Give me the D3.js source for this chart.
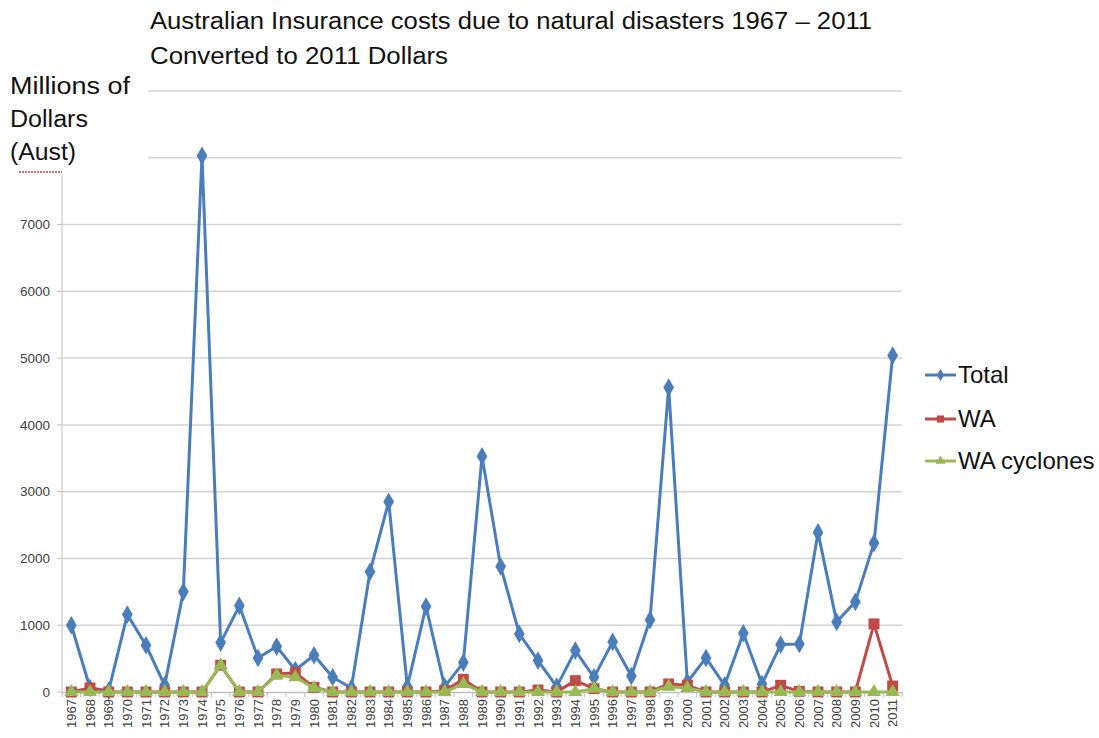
<!DOCTYPE html>
<html>
<head>
<meta charset="utf-8">
<script src="https://cdn.jsdelivr.net/npm/d3@7"></script>
<style>
  body { margin: 0; background: #fff; }
  svg { display: block; }
</style>
</head>
<body>
<div id="chart"></div>
<script>
const years = d3.range(1967, 2012).map(String);

const total = [1000, 60, 20, 1160, 700, 100, 1500, 8030, 740, 1290,
  510, 680, 330, 550, 220, 60, 1800, 2850, 80, 1280,
  80, 440, 3530, 1880, 870, 470, 80, 620, 220, 750,
  240, 1080, 4560, 150, 510, 100, 880, 120, 710, 720,
  2390, 1050, 1350, 2230, 5040];

const wa = [0, 60, 0, 0, 0, 0, 0, 0, 400, 0,
  0, 270, 290, 70, 0, 0, 0, 0, 0, 0,
  20, 190, 0, 0, 0, 30, 0, 170, 50, 0,
  0, 0, 120, 100, 0, 0, 0, 0, 100, 10,
  0, 0, 0, 1020, 90];

const waCyclones = [0, 0, 0, 0, 0, 0, 0, 0, 400, 0,
  0, 250, 220, 60, 0, 0, 0, 0, 0, 0,
  0, 120, 0, 0, 0, 0, 0, 0, 50, 0,
  0, 0, 80, 60, 0, 0, 0, 0, 0, 0,
  0, 0, 0, 0, 0];

const yTicks = [0, 1000, 2000, 3000, 4000, 5000, 6000, 7000];
const yHiddenGrid = [8000, 9000];

const seriesNames = ["Total", "WA", "WA cyclones"];
const colors = ["#4a7ebb", "#be4b48", "#98b954"];

const width = 1099, height = 738;
const marginLeft = 62, plotRight = 902, yBottom = 692, yTop = 91;
const font = "'Liberation Sans Narrow', 'Liberation Sans', Arial, sans-serif";

const svg = d3.select("#chart").append("svg")
  .attr("width", width)
  .attr("height", height);

const x = d3.scaleBand().domain(years).range([marginLeft, plotRight]);
const y = d3.scaleLinear().domain([0, 9000]).range([yBottom, yTop]);

// gridlines
svg.append("g").selectAll("line")
  .data(yTicks.slice(1))
  .join("line")
  .attr("x1", marginLeft).attr("x2", plotRight)
  .attr("y1", d => y(d)).attr("y2", d => y(d))
  .attr("stroke", "#d4d4d4").attr("stroke-width", 1.5);

// top gridlines are partly hidden behind the title and axis label
svg.append("g").selectAll("line")
  .data(yHiddenGrid)
  .join("line")
  .attr("x1", 148).attr("x2", plotRight)
  .attr("y1", d => y(d)).attr("y2", d => y(d))
  .attr("stroke", "#d4d4d4").attr("stroke-width", 1.5);

// y axis
svg.append("line")
  .attr("x1", marginLeft).attr("x2", marginLeft)
  .attr("y1", 175).attr("y2", yBottom)
  .attr("stroke", "#bfbfbf").attr("stroke-width", 1);

svg.append("g").selectAll("line")
  .data(yTicks)
  .join("line")
  .attr("x1", marginLeft - 5).attr("x2", marginLeft)
  .attr("y1", d => y(d)).attr("y2", d => y(d))
  .attr("stroke", "#bfbfbf");

svg.append("g").selectAll("text")
  .data(yTicks)
  .join("text")
  .attr("x", 50)
  .attr("y", d => y(d))
  .attr("dy", "0.35em")
  .attr("text-anchor", "end")
  .attr("font-family", "'Liberation Sans', Arial, sans-serif")
  .attr("font-size", 13.5)
  .attr("fill", "#404040")
  .text(d => d);

// x axis
const xAxis = svg.append("g")
  .attr("transform", `translate(0,${yBottom})`)
  .call(d3.axisBottom(x).tickSize(0).tickPadding(6));
xAxis.select(".domain").attr("stroke", "#bfbfbf").attr("stroke-width", 1.5);
xAxis.selectAll("text")
  .attr("transform", "rotate(-90)")
  .attr("text-anchor", "end")
  .attr("x", -7)
  .attr("y", 0)
  .attr("dy", "0.35em")
  .attr("font-family", "'Liberation Sans', Arial, sans-serif")
  .attr("font-size", 13)
  .attr("fill", "#404040");

svg.append("g").selectAll("line")
  .data(years.concat(["end"]))
  .join("line")
  .attr("x1", d => d === "end" ? plotRight : x(d))
  .attr("x2", d => d === "end" ? plotRight : x(d))
  .attr("y1", yBottom).attr("y2", yBottom + 5)
  .attr("stroke", "#bfbfbf");

// series
const cx = d => x(d) + x.bandwidth() / 2;
const line = d3.line()
  .x((_, i) => cx(years[i]))
  .y(d => y(d));

const data = [total, wa, waCyclones];
const symbols = [d3.symbolDiamond, d3.symbolSquare, d3.symbolTriangle];
const sizes = [100, 120, 85];

data.forEach((vals, k) => {
  svg.append("path")
    .datum(vals)
    .attr("fill", "none")
    .attr("stroke", colors[k])
    .attr("stroke-width", 3)
    .attr("stroke-linejoin", "round")
    .attr("d", line);

  svg.append("g").selectAll("path")
    .data(vals)
    .join("path")
    .attr("transform", (d, i) => `translate(${cx(years[i])},${y(d)})`)
    .attr("d", d3.symbol(symbols[k], sizes[k]))
    .attr("fill", colors[k]);
});

// title
svg.append("text")
  .attr("x", 150).attr("y", 29)
  .attr("font-family", font)
  .attr("font-size", 23)
  .attr("fill", "#111")
  .attr("textLength", 722)
  .attr("lengthAdjust", "spacingAndGlyphs")
  .text("Australian Insurance costs due to natural disasters 1967 – 2011");

svg.append("text")
  .attr("x", 150).attr("y", 64)
  .attr("font-family", font)
  .attr("font-size", 23)
  .attr("fill", "#111")
  .attr("textLength", 298)
  .attr("lengthAdjust", "spacingAndGlyphs")
  .text("Converted to 2011 Dollars");

// y axis label
const yLabel = [["Millions of", 120], ["Dollars", 78], ["(Aust)", 66]];
yLabel.forEach(([t, w], i) => {
  svg.append("text")
    .attr("x", 10).attr("y", 94 + i * 33)
    .attr("font-family", font)
    .attr("font-size", 23)
    .attr("fill", "#111")
    .attr("textLength", w)
    .attr("lengthAdjust", "spacingAndGlyphs")
    .text(t);
});
// spell-check squiggle under "Aust"
svg.append("line")
  .attr("x1", 19).attr("x2", 62)
  .attr("y1", 172).attr("y2", 172)
  .attr("stroke", "#d23c3c").attr("stroke-width", 1.5)
  .attr("stroke-dasharray", "2,1");

// legend
const legendY = [375, 419, 461];
const legendSizes = [45, 50, 40];
seriesNames.forEach((name, k) => {
  const g = svg.append("g").attr("transform", `translate(925,${legendY[k]})`);
  g.append("line")
    .attr("x1", 0).attr("x2", 31)
    .attr("stroke", colors[k]).attr("stroke-width", 3);
  g.append("path")
    .attr("transform", "translate(15.5,0)")
    .attr("d", d3.symbol(symbols[k], legendSizes[k]))
    .attr("fill", colors[k]);
  g.append("text")
    .attr("x", 33).attr("dy", "0.35em")
    .attr("font-family", "'Liberation Sans', Arial, sans-serif")
    .attr("font-size", 24)
    .attr("fill", "#111")
    .text(name);
});
</script>
</body>
</html>
